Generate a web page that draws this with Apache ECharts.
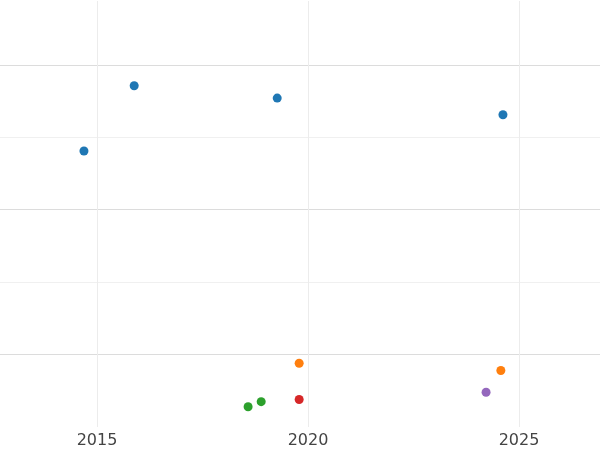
<!DOCTYPE html>
<html lang="en">
<head>
    <meta charset="UTF-8">
    <script src="https://cdn.jsdelivr.net/npm/echarts@6/dist/echarts.min.js"></script>
</head>
<body style="margin:0">
<div id="main" style="width: 600px;height:450px;"></div>
<script type="text/javascript">
    // point groups: [year, value]
    var blueData = [[2014.69, 2.81], [2015.88, 3.71], [2019.27, 3.54], [2024.62, 3.31]];
    var orangeData = [[2019.79, -0.12], [2024.57, -0.22]];
    var greenData = [[2018.58, -0.72], [2018.89, -0.65]];
    var redData = [[2019.79, -0.62]];
    var purpleData = [[2024.22, -0.52]];
    var yearTicks = [2015, 2020, 2025];

    var myChart = echarts.init(document.getElementById('main'));

    function pts(data, color) {
        return {type: 'scatter', data: data, symbolSize: 9, itemStyle: {color: color, opacity: 1}, z: 5};
    }

    var gridLines = {
        type: 'scatter', data: [], silent: true,
        markLine: {
            silent: true, symbol: 'none', label: {show: false},
            lineStyle: {color: '#ececec', type: 'solid', width: 1},
            data: yearTicks.map(function (y) { return {xAxis: y}; })
        }
    };

    var option = {
        animation: false,
        textStyle: {fontFamily: 'DejaVu Sans'},
        grid: {left: 0, right: 0, top: 1, height: 426},
        xAxis: {
            type: 'value', min: 2012.7, max: 2026.92,
            axisLine: {show: false}, axisTick: {show: false}, splitLine: {show: false},
            axisLabel: {
                customValues: yearTicks, fontSize: 16, color: '#444', margin: 6,
                fontFamily: 'DejaVu Sans',
                formatter: function (v) { return String(v); }
            }
        },
        yAxis: {
            type: 'value', min: -1, max: 4.88, interval: 1,
            axisLine: {show: false}, axisTick: {show: false}, axisLabel: {show: false},
            splitLine: {lineStyle: {color: ['rgba(0,0,0,0)', '#dcdcdc', '#f0f0f0', '#dcdcdc', '#f0f0f0', '#dcdcdc']}}
        },
        series: [
            gridLines,
            pts(blueData, '#1f77b4'),
            pts(orangeData, '#ff7f0e'),
            pts(greenData, '#2ca02c'),
            pts(redData, '#d62728'),
            pts(purpleData, '#9467bd')
        ]
    };
    myChart.setOption(option);
</script>
</body>
</html>
